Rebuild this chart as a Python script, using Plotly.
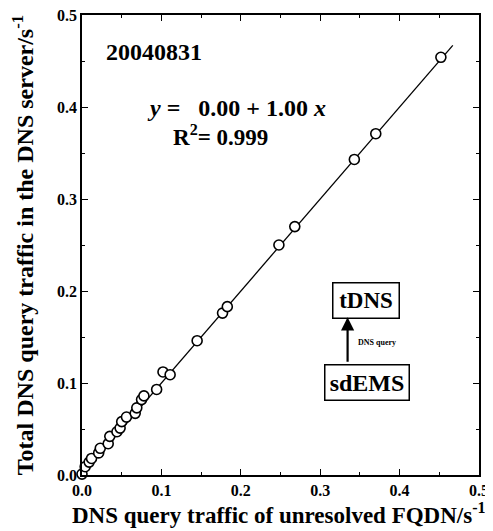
import plotly.graph_objects as go

# Data (s^-1)
x_vals = [0.000, 0.004, 0.009, 0.012, 0.021, 0.023, 0.033, 0.035, 0.044, 0.048,
          0.050, 0.056, 0.067, 0.069, 0.075, 0.078, 0.094, 0.102, 0.111, 0.145,
          0.177, 0.183, 0.248, 0.268, 0.343, 0.370, 0.452]
y_vals = [0.001, 0.009, 0.014, 0.018, 0.024, 0.029, 0.034, 0.042, 0.047, 0.051,
          0.058, 0.063, 0.067, 0.073, 0.082, 0.086, 0.093, 0.112, 0.109, 0.146,
          0.176, 0.183, 0.250, 0.270, 0.343, 0.371, 0.454]
fit_x = [0.0, 0.467]
intercept = 0.00
slope = 1.00
fit_y = [intercept + slope * v for v in fit_x]
tick_vals = [0.0, 0.1, 0.2, 0.3, 0.4, 0.5]
tick_text = ["0.0", "0.1", "0.2", "0.3", "0.4", "0.5"]

FONT = "Liberation Serif"

fig = go.Figure()
fig.add_trace(go.Scatter(x=fit_x, y=fit_y, mode="lines",
                         line=dict(color="black", width=1.3),
                         hoverinfo="skip", showlegend=False))
fig.add_trace(go.Scatter(x=x_vals, y=y_vals, mode="markers",
                         marker=dict(symbol="circle", size=10, color="white",
                                     line=dict(color="black", width=1.6)),
                         cliponaxis=False, showlegend=False))

axis_common = dict(
    range=[0, 0.5], showgrid=False, zeroline=False, automargin=False,
    showline=True, linecolor="black", linewidth=1.6, mirror="ticks",
    ticks="inside", ticklen=6, tickwidth=1.3, tickcolor="black",
    tickvals=tick_vals, ticktext=tick_text, ticklabeloverflow="allow",
    tickfont=dict(family=FONT, size=16, color="black", weight="bold"),
    minor=dict(ticks="inside", dtick=0.05, ticklen=3, tickwidth=1, tickcolor="black"),
)

fig.update_xaxes(**axis_common)
fig.update_yaxes(**axis_common,
                 title=dict(text="<b>Total DNS query traffic in the DNS server/s<sup>-1</sup></b>",
                            font=dict(family=FONT, size=24, color="black"), standoff=34))

nb = "\u00a0"
anns = [
    dict(x=0.495, y=0, yanchor="top", xanchor="center", yshift=-22,
         text="<b>DNS query traffic of unresolved FQDN/s<sup>-1</sup></b>",
         font=dict(family=FONT, size=23, color="black")),
    dict(x=0.055, y=0.92, text="<b>20040831</b>", xanchor="left", yanchor="middle",
         font=dict(family=FONT, size=24, color="black")),
    dict(x=0.388, y=0.797, text="<b><i>y</i> =" + nb * 3 + "0.00 + 1.00 <i>x</i></b>",
         xanchor="center", yanchor="middle", font=dict(family=FONT, size=24, color="black")),
    dict(x=0.348, y=0.737, text="<b>R<sup>2</sup>= 0.999</b>",
         xanchor="center", yanchor="middle", font=dict(family=FONT, size=23, color="black")),
    dict(x=0.7166, y=0.380, text="<b>tDNS</b>", xanchor="center", yanchor="middle",
         font=dict(family=FONT, size=23, color="black"), width=63, height=32,
         bordercolor="black", borderwidth=1.5, borderpad=1, bgcolor="white"),
    dict(x=0.719, y=0.202, text="<b>sdEMS</b>", xanchor="center", yanchor="middle",
         font=dict(family=FONT, size=24, color="black"), width=81, height=32,
         bordercolor="black", borderwidth=1.5, borderpad=1, bgcolor="white"),
    dict(x=0.690, y=0.287, text="<b>DNS query</b>", xanchor="left", yanchor="middle",
         font=dict(family=FONT, size=8, color="black")),
    dict(x=0.669, y=0.343, text="", showarrow=True, ax=0, ay=46,
         arrowhead=2, arrowsize=1.2, arrowwidth=2.2, arrowcolor="black"),
]
for a in anns:
    a.setdefault("showarrow", False)
    a["xref"] = "paper"
    a["yref"] = "paper"
    fig.add_annotation(**a)

# The page body adds an 8 px offset; size the figure to fit the window.
fig.update_layout(
    width=485, height=523,
    margin=dict(l=74, r=14, t=7, b=56),
    paper_bgcolor="white", plot_bgcolor="white",
    font=dict(family=FONT, color="black"),
)

fig.write_html("out.html")
